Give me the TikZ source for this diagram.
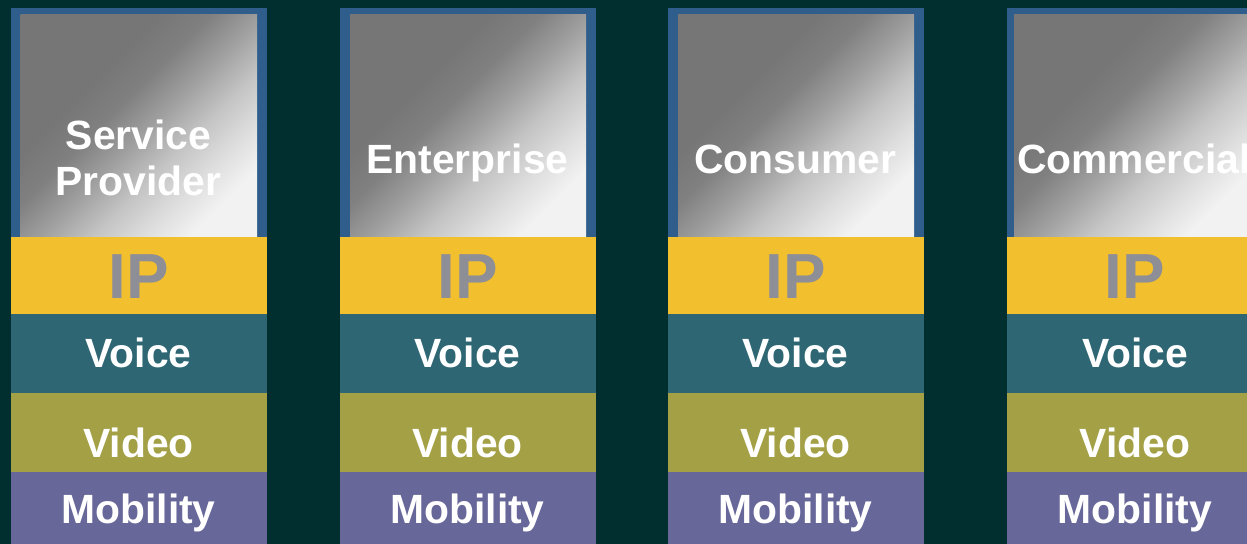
\documentclass[tikz,border=0pt]{standalone}
\usepackage{fontspec}
\setmainfont{Liberation Sans}
\definecolor{bg}{RGB}{1,47,47}
\definecolor{frameblue}{RGB}{47,93,140}
\definecolor{ipyellow}{RGB}{242,191,46}
\definecolor{voiceteal}{RGB}{46,102,115}
\definecolor{videoolive}{RGB}{163,160,69}
\definecolor{mobpurple}{RGB}{103,103,153}
\definecolor{iptext}{RGB}{142,142,150}
\definecolor{gA}{RGB}{118,118,118}
\definecolor{gB}{RGB}{128,128,128}
\definecolor{gC}{RGB}{160,160,160}
\definecolor{gD}{RGB}{196,196,196}
\definecolor{gF}{RGB}{222,222,222}
\definecolor{gE}{RGB}{242,242,242}
\pgfdeclareverticalshading{grayfade}{100bp}{color(0bp)=(gE); color(25bp)=(gE); color(32bp)=(gF); color(40bp)=(gD); color(48bp)=(gC); color(56bp)=(gB); color(64bp)=(gA); color(75bp)=(gA); color(100bp)=(gA)}
\begin{document}
\begin{tikzpicture}[x=1bp,y=-1bp,
  box/.style={rectangle, draw=none, inner sep=0pt, outer sep=0pt, anchor=north west, minimum width=256bp},
  lbl/.style={font=\fontsize{41}{47}\selectfont\bfseries, text=white, anchor=base, inner sep=0pt, align=center},
  iplbl/.style={font=\fontsize{64}{64}\selectfont\bfseries, text=iptext, anchor=base, inner sep=0pt}]
\fill[bg] (0,0) rectangle (1247,544);
\useasboundingbox (0,0) rectangle (1247,544);
\foreach \i/\L/\li in {1/10.5/10, 2/339.5/10.5, 3/667.5/10.5, 4/1007/7} {
  \node[box, fill=frameblue, minimum height=229bp] (frame\i) at (\L,8) {};
  \node[box, shading=grayfade, shading angle=45, minimum width={(246.5-\li)*1bp}, minimum height=222bp] (head\i) at (\L+\li,15) {};
  \node[box, fill=ipyellow, minimum height=77bp] (ip\i) at (\L,237) {};
  \node[box, fill=voiceteal, minimum height=79bp] (voice\i) at (\L,314) {};
  \node[box, fill=videoolive, minimum height=79bp] (video\i) at (\L,393) {};
  \node[box, fill=mobpurple, minimum height=72bp] (mob\i) at (\L,472) {};
  \node[iplbl] (iptxt\i) at (\L+128,299) {IP};
  \node[lbl] (voicetxt\i) at (\L+128,368) {Voice};
  \node[lbl] (videotxt\i) at (\L+128,457) {Video};
  \node[lbl] (mobtxt\i) at (\L+128,523) {Mobility};
}
\node[lbl] (headtxt1) at (138.5,196) {Service\\Provider};
\node[lbl] (headtxt2) at (467.5,174) {Enterprise};
\node[lbl] (headtxt3) at (795.5,174) {Consumer};
\node[lbl] (headtxt4) at (1134,174) {Commercial};
\end{tikzpicture}
\end{document}
